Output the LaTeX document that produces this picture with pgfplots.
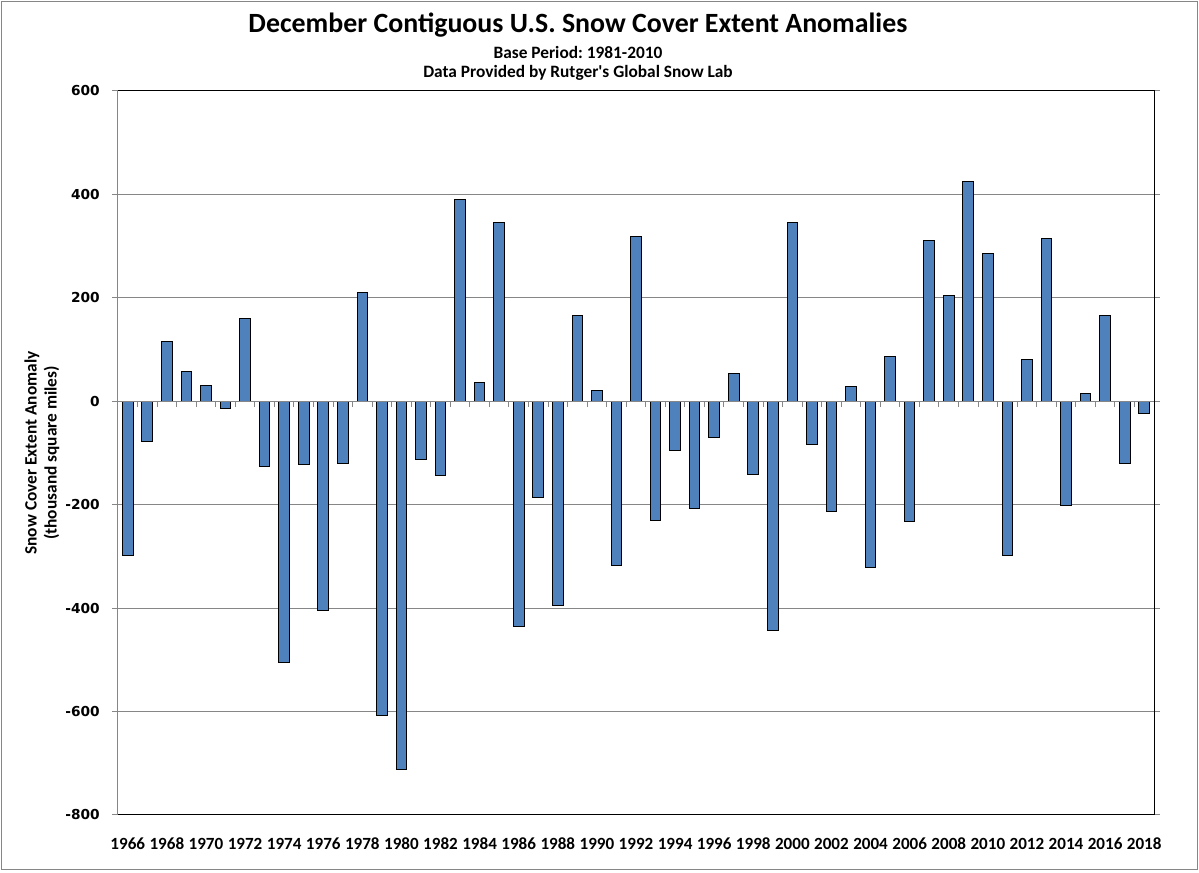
\documentclass[border=0pt]{standalone}
\usepackage{pgfplots}
\pgfplotsset{compat=1.18}
\usepackage{fontspec}
\setmainfont{Carlito}
\newfontfamily\dejavu{DejaVu Sans}
\frenchspacing

\definecolor{barblue}{RGB}{79,129,189}
\definecolor{gridgray}{RGB}{134,134,134}

\pgfplotstableread{
year value
1966 -298
1967 -77
1968 116
1969 58
1970 31
1971 -14
1972 160
1973 -126
1974 -505
1975 -122
1976 -404
1977 -120
1978 211
1979 -607
1980 -712
1981 -112
1982 -143
1983 391
1984 37
1985 346
1986 -435
1987 -186
1988 -395
1989 166
1990 21
1991 -317
1992 319
1993 -230
1994 -95
1995 -207
1996 -70
1997 54
1998 -141
1999 -443
2000 346
2001 -83
2002 -213
2003 29
2004 -321
2005 87
2006 -232
2007 311
2008 205
2009 424
2010 286
2011 -298
2012 81
2013 315
2014 -201
2015 15
2016 166
2017 -120
2018 -23
}\snowdata

\begin{document}
\begin{tikzpicture}
\path[use as bounding box] (-88.5pt,-43.5pt) rectangle (810.75pt,611.25pt);
\draw[gridgray, line width=0.75pt] (-87pt,-41.25pt) rectangle (809.25pt,609.75pt);

\begin{axis}[
    at={(0pt,0pt)}, anchor=south west,
    scale only axis,
    width=777pt, height=543pt,
    xmin=1965.5, xmax=2018.5,
    ymin=-800, ymax=600,
    ybar, bar width=8pt,
    axis line style={draw=none},
    clip=false,
    ytick={-800,-600,-400,-200,0,200,400,600},
    yticklabels={-800,-600,-400,-200,0,200,400,600},
    xtick={1966,1968,...,2018},
    xticklabels={1966,1968,1970,1972,1974,1976,1978,1980,1982,1984,1986,1988,1990,1992,1994,1996,1998,2000,2002,2004,2006,2008,2010,2012,2014,2016,2018},
    ymajorgrids,
    grid style={gridgray, line width=0.75pt},
    tick align=outside,
    major tick length=4.5pt,
    ytick style={gridgray, line width=0.75pt},
    xtick style={draw=none},
    yticklabel style={font=\dejavu\bfseries\fontsize{10.3}{12}\selectfont, anchor=east, inner sep=0pt, xshift=-9pt},
    xticklabel style={font=\bfseries\fontsize{12.8}{14}\selectfont, anchor=base, inner sep=0pt, yshift=-21.75pt},
]
\addplot[fill=barblue, draw=black, line width=0.75pt] table[x=year, y=value] {\snowdata};

% horizontal axis at zero with category tick marks
\draw[gridgray, line width=0.75pt] (axis cs:1965.5,0) -- (axis cs:2018.5,0);
\pgfplotsinvokeforeach{1965.5,1966.5,...,2018.5}{
    \draw[gridgray, line width=0.75pt] (axis cs:#1,0) -- ++(0pt,-4.5pt);
}
% plot area border
\draw[black, line width=0.75pt] (rel axis cs:0,0) -- (rel axis cs:1,0) -- (rel axis cs:1,1) -- (rel axis cs:0,1);
\draw[gridgray, line width=0.75pt] (rel axis cs:0,0) -- (rel axis cs:0,1);
\end{axis}

\node[font=\bfseries\fontsize{20.9}{24}\selectfont] at (345pt,592.5pt) {December Contiguous U.S. Snow Cover Extent Anomalies};
\node[font=\bfseries\fontsize{13}{15}\selectfont] at (345pt,572.25pt) {Base Period: 1981-2010};
\node[font=\bfseries\fontsize{13}{15}\selectfont] at (345pt,556.5pt) {Data Provided by Rutger\textquotesingle s Global Snow Lab};
\node[font=\bfseries\fontsize{13}{15}\selectfont, rotate=90, align=center] at (-57pt,271.5pt) {Snow Cover Extent Anomaly\\(thousand square miles)};
\end{tikzpicture}
\end{document}
